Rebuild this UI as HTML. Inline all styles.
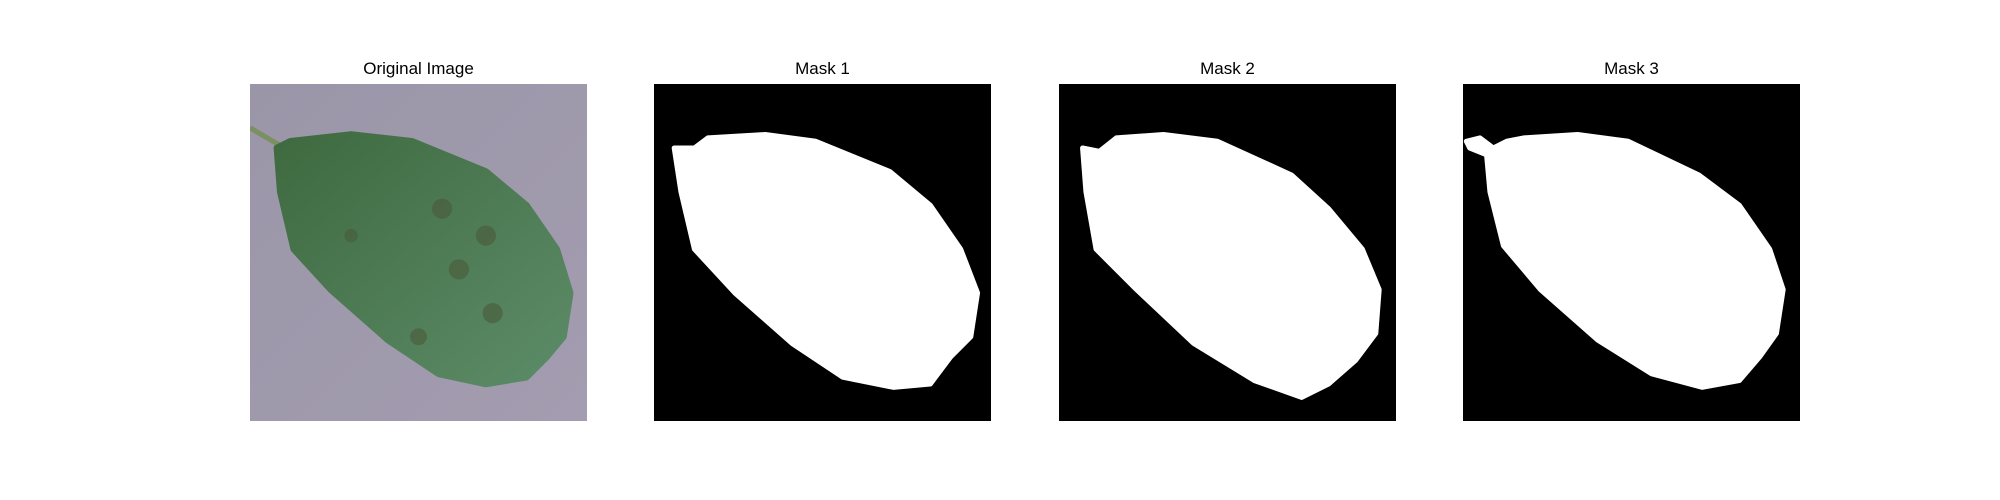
<!DOCTYPE html>
<html><head><meta charset="utf-8"><style>
body{margin:0;background:#fff;width:2000px;height:500px;position:relative;overflow:hidden;font-family:"Liberation Sans","DejaVu Sans",sans-serif}
.t{position:absolute;top:59px;width:337px;text-align:center;font-size:17px;color:#000}
svg{position:absolute;top:84px}
</style></head><body>
<div class="t" style="left:250px">Original Image</div>
<div class="t" style="left:654px">Mask 1</div>
<div class="t" style="left:1059px">Mask 2</div>
<div class="t" style="left:1463px">Mask 3</div>

<svg style="left:250px" width="337" height="337" viewBox="0 0 100 100" preserveAspectRatio="none">
<defs><linearGradient id="bg" x1="0" y1="0" x2="1" y2="1"><stop offset="0" stop-color="#9a96a8"/><stop offset="1" stop-color="#a49cb0"/></linearGradient>
<linearGradient id="lf" x1="0" y1="0" x2="1" y2="1"><stop offset="0" stop-color="#3f6a40"/><stop offset="1" stop-color="#5c8c68"/></linearGradient></defs>
<rect width="100" height="100" fill="url(#bg)"/>
<path d="M0,13 L12,20" stroke="#7a9060" stroke-width="1.5"/>
<path d="M8,19 L12,17 L30,15 L48,17 L70,26 L82,36 L91,49 L95,62 L93,75 L88,81 L82,87 L70,89 L56,86 L41,76 L24,61 L13,49 L9,32 Z" fill="url(#lf)" stroke="url(#lf)" stroke-width="2" stroke-linejoin="round"/>
<g fill="#4a5a3a" opacity="0.6"><circle cx="57" cy="37" r="3"/><circle cx="70" cy="45" r="3"/><circle cx="62" cy="55" r="3"/><circle cx="72" cy="68" r="3"/><circle cx="50" cy="75" r="2.5"/><circle cx="30" cy="45" r="2"/></g>
</svg>
<svg style="left:654px" width="337" height="337" viewBox="0 0 100 100" preserveAspectRatio="none">
<rect width="100" height="100" fill="#000"/>
<path d="M6,19 L12,19 L16,16 L33,15 L48,17 L70,26 L82,36 L91,49 L96,62 L94,75 L88,81 L82,89 L71,90 L56,87 L41,77 L24,62 L12,49 L8,32 Z" fill="#fff" stroke="#fff" stroke-width="1.5" stroke-linejoin="round"/>
</svg>
<svg style="left:1059px" width="337" height="337" viewBox="0 0 100 100" preserveAspectRatio="none">
<rect width="100" height="100" fill="#000"/>
<path d="M7,19 L12,20 L17,16 L31,15 L47,17 L69,27 L80,37 L90,49 L95,61 L94,74 L88,82 L80,89 L72,93 L58,88 L40,77 L23,61 L11,49 L8,32 Z" fill="#fff" stroke="#fff" stroke-width="1.5" stroke-linejoin="round"/>
</svg>
<svg style="left:1463px" width="337" height="337" viewBox="0 0 100 100" preserveAspectRatio="none">
<rect width="100" height="100" fill="#000"/>
<path d="M1,17 L5,16 L9,19 L13,17 L18,16 L34,15 L49,17 L70,27 L82,36 L91,49 L95,61 L93,74 L88,81 L82,88 L71,90 L56,86 L40,76 L23,61 L12,48 L8,32 L7,21 L2,19 Z" fill="#fff" stroke="#fff" stroke-width="1.5" stroke-linejoin="round"/>
</svg>
</body></html>
